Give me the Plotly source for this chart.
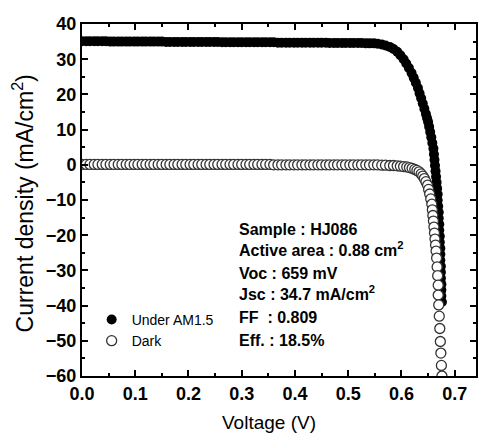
import plotly.graph_objects as go

# ---- data ----
V_flat = [0.000, 0.008, 0.015, 0.023, 0.030, 0.038, 0.045, 0.053, 0.060, 0.068,
          0.075, 0.083, 0.090, 0.098, 0.105, 0.113, 0.120, 0.128, 0.135, 0.143,
          0.150, 0.158, 0.165, 0.173, 0.180, 0.188, 0.195, 0.203, 0.210, 0.218,
          0.225, 0.233, 0.240, 0.248, 0.255, 0.263, 0.270, 0.278, 0.285, 0.293,
          0.300, 0.308, 0.315, 0.323, 0.330, 0.338, 0.345, 0.353, 0.360, 0.368,
          0.375, 0.383, 0.390, 0.398, 0.405, 0.413, 0.420, 0.428, 0.435, 0.443,
          0.450, 0.458, 0.465, 0.473, 0.480, 0.488, 0.495, 0.503, 0.510, 0.518,
          0.525, 0.533, 0.540]
J_light_flat = [35.1, 35.1, 35.1, 35.1, 35.1, 35.1, 35.1, 35.0, 35.0, 35.0,
                35.0, 35.0, 35.0, 35.0, 35.0, 35.0, 35.0, 35.0, 35.0, 35.0,
                35.0, 34.9, 34.9, 34.9, 34.9, 34.9, 34.9, 34.9, 34.9, 34.9,
                34.9, 34.9, 34.9, 34.9, 34.9, 34.8, 34.8, 34.8, 34.8, 34.8,
                34.8, 34.8, 34.8, 34.8, 34.8, 34.8, 34.8, 34.8, 34.8, 34.7,
                34.7, 34.7, 34.7, 34.7, 34.7, 34.7, 34.7, 34.7, 34.7, 34.7,
                34.7, 34.7, 34.6, 34.6, 34.6, 34.6, 34.6, 34.6, 34.6, 34.6,
                34.6, 34.5, 34.5]
V_light_knee = [0.548, 0.555, 0.563, 0.570, 0.578, 0.585, 0.592, 0.598, 0.604, 0.609,
                0.614, 0.619, 0.623, 0.627, 0.631, 0.634, 0.637, 0.640, 0.643, 0.646,
                0.648, 0.650, 0.652, 0.654, 0.656, 0.658, 0.660, 0.661, 0.662, 0.663,
                0.664, 0.665, 0.666, 0.667, 0.668, 0.668, 0.669, 0.670, 0.670, 0.671,
                0.671, 0.672, 0.672, 0.673, 0.673, 0.673, 0.674, 0.674, 0.674, 0.675,
                0.675, 0.675, 0.676]
J_light_knee = [34.5, 34.4, 34.2, 33.9, 33.5, 32.9, 32.1, 31.1, 30.0, 28.8,
                27.5, 26.1, 24.7, 23.3, 21.8, 20.3, 18.9, 17.4, 15.9, 14.4,
                13.3, 12.2, 10.8, 9.3, 7.8, 6.2, 4.6, 3.0, 1.4, -0.2,
                -1.8, -3.4, -5.0, -6.7, -8.4, -10.1, -11.8, -13.5, -15.2, -16.9,
                -18.6, -20.3, -22.0, -23.7, -25.4, -27.1, -28.8, -30.5, -32.2, -33.9,
                -35.6, -37.3, -39.0]
J_dark_flat = [0.1, 0.1, 0.1, 0.1, 0.1, 0.1, 0.1, 0.1, 0.1, 0.1,
               0.1, 0.1, 0.1, 0.1, 0.1, 0.1, 0.1, 0.1, 0.1, 0.1,
               0.1, 0.1, 0.1, 0.1, 0.1, 0.1, 0.1, 0.1, 0.1, 0.1,
               0.1, 0.1, 0.1, 0.1, 0.1, 0.1, 0.1, 0.1, 0.1, 0.1,
               0.1, 0.1, 0.1, 0.1, 0.1, 0.1, 0.1, 0.1, 0.0, 0.0,
               0.0, 0.0, 0.0, 0.0, 0.0, 0.0, 0.0, 0.0, 0.0, 0.0,
               0.0, 0.0, 0.0, 0.0, 0.0, 0.0, 0.0, 0.0, 0.0, 0.0,
               0.0, 0.0, 0.0]
V_dark_knee = [0.548, 0.555, 0.563, 0.570, 0.578, 0.585, 0.592, 0.598, 0.604, 0.610,
               0.615, 0.620, 0.625, 0.629, 0.633, 0.637, 0.640, 0.643, 0.646, 0.649,
               0.651, 0.653, 0.655, 0.657, 0.658, 0.659, 0.660, 0.661, 0.662, 0.663,
               0.664, 0.665, 0.666, 0.667, 0.668, 0.669, 0.669, 0.670, 0.671, 0.672,
               0.673, 0.674, 0.675, 0.676]
J_dark_knee = [0.0, 0.0, -0.1, -0.1, -0.2, -0.2, -0.3, -0.4, -0.5, -0.6,
               -0.8, -1.0, -1.3, -1.6, -2.0, -2.6, -3.2, -3.9, -4.8, -5.8,
               -7.0, -8.3, -9.7, -11.2, -12.8, -14.4, -16.0, -17.7, -19.4, -21.1,
               -22.8, -24.5, -26.5, -29.0, -31.5, -34.2, -37.0, -39.8, -43.0, -46.5,
               -50.2, -53.5, -57.0, -60.0]

V_light = V_flat + V_light_knee
J_light = J_light_flat + J_light_knee
V_dark = V_flat + V_dark_knee
J_dark = J_dark_flat + J_dark_knee

x_ticks = [0.0, 0.1, 0.2, 0.3, 0.4, 0.5, 0.6, 0.7]
y_ticks = [-60, -50, -40, -30, -20, -10, 0, 10, 20, 30, 40]

info_lines = ["Sample : HJ086", "Active area : 0.88 cm<sup>2</sup>", "Voc : 659 mV",
              "Jsc : 34.7 mA/cm<sup>2</sup>", "FF\u00a0\u00a0: 0.809", "Eff. : 18.5%"]

FONT = "Liberation Sans, Arial, sans-serif"

fig = go.Figure()
fig.add_trace(go.Scatter(x=V_light, y=J_light, mode="markers", name="Under AM1.5",
                         marker=dict(symbol="circle", size=10, color="black",
                                     line=dict(width=0))))
fig.add_trace(go.Scatter(x=V_dark, y=J_dark, mode="markers", name="Dark",
                         marker=dict(symbol="circle", size=10, color="white",
                                     line=dict(width=1.3, color="#333333"))))

axis_common = dict(showline=True, linewidth=2, linecolor="black", mirror="ticks",
                   ticks="inside", ticklen=6, tickwidth=2, tickcolor="black",
                   showgrid=False, zeroline=False,
                   tickfont=dict(family=FONT, size=18, color="black", weight="bold"))

fig.update_xaxes(range=[0, 0.74], tickvals=x_ticks,
                 ticktext=[f"{v:.1f}" for v in x_ticks],
                 minor=dict(ticks="inside", ticklen=3, tickwidth=2, dtick=0.05,
                            tickcolor="black", showgrid=False),
                 **axis_common)
fig.update_yaxes(range=[-60, 40], tickvals=y_ticks,
                 minor=dict(ticks="inside", ticklen=3, tickwidth=2, dtick=5,
                            tickcolor="black", showgrid=False),
                 **axis_common)

ys = [0.415, 0.361, 0.290, 0.236, 0.165, 0.102]
for t, yy in zip(info_lines, ys):
    fig.add_annotation(text=t, x=0.394, y=yy, xref="paper", yref="paper",
                       xanchor="left", yanchor="middle", showarrow=False,
                       font=dict(family=FONT, size=16, color="black", weight="bold"))

fig.add_annotation(text="Voltage (V)", x=0.475, y=-0.133, xref="paper", yref="paper",
                   xanchor="center", yanchor="middle", showarrow=False,
                   font=dict(family=FONT, size=19, color="black"))
fig.add_annotation(text="Current density (mA/cm<sup>2</sup>)", x=-0.15, y=0.49,
                   xref="paper", yref="paper", textangle=-90,
                   xanchor="center", yanchor="middle", showarrow=False,
                   font=dict(family=FONT, size=23, color="black"))

fig.update_layout(width=478, height=434,
                  margin=dict(l=82, r=0, t=24, b=58),
                  paper_bgcolor="white", plot_bgcolor="white",
                  showlegend=True,
                  legend=dict(x=0.0245, y=0.205, xanchor="left", yanchor="top",
                              bgcolor="rgba(0,0,0,0)", borderwidth=0,
                              tracegroupgap=0,
                              font=dict(family=FONT, size=14, color="black")))

fig.write_html("out.html", config={"displayModeBar": False},
               post_script="document.body.style.margin='0';document.body.style.overflow='hidden';")
